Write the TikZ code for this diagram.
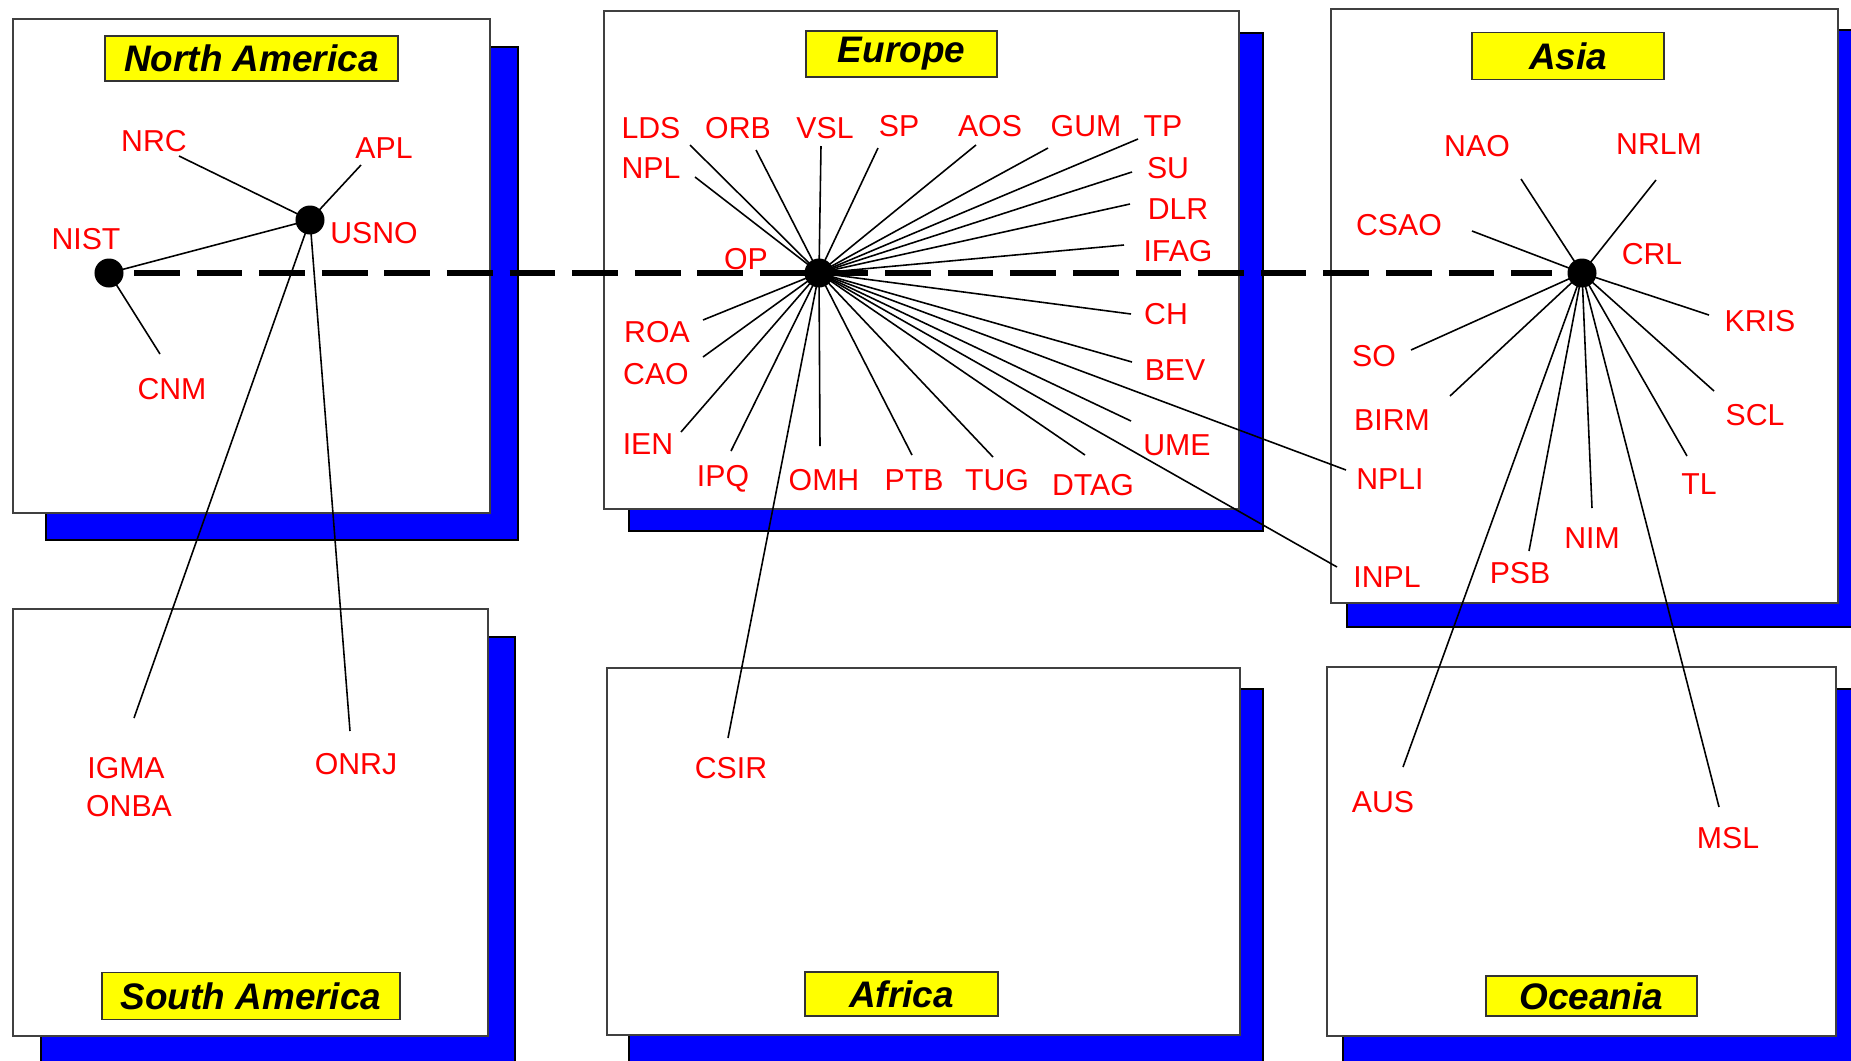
\documentclass[tikz,border=0pt]{standalone}
\usepackage{fontspec}
\setmainfont{Liberation Sans}
\usepackage{xcolor}

\definecolor{shadowblue}{RGB}{0,0,255}
\definecolor{titleyellow}{RGB}{255,255,0}
\definecolor{labelred}{RGB}{255,0,0}

\begin{document}
\begin{tikzpicture}[x=0.01cm,y=-0.01cm,
        panel/.style={draw=black!75,fill=white,line width=0.5pt},
        backing/.style={draw=black,fill=shadowblue,line width=0.4pt},
        region/.style={draw=black!80,fill=titleyellow,line width=0.5pt,inner sep=0pt,
            font=\fontsize{10.5}{12}\selectfont\bfseries\itshape},
        lab/.style={text=labelred,inner sep=0pt,font=\fontsize{8.6}{10}\selectfont},
        hub/.style={circle,fill=black,inner sep=0pt,minimum size=0.29cm},
        spoke/.style={line width=0.45pt},
        trunk/.style={line width=1.7pt,dash pattern=on 13pt off 4.8pt}]
        \useasboundingbox[fill=white] (0,0) rectangle (1851,1060);

        % panels with their blue shadows
        \draw[backing] (46,47) rectangle (518,540);
        \draw[panel]   (13,19) rectangle (490,513);
        \draw[backing] (629,33) rectangle (1263,531);
        \draw[panel]   (604,11) rectangle (1239,509);
        \draw[backing] (1347,30) rectangle (1856,627);
        \draw[panel]   (1331,9) rectangle (1838,603);
        \draw[backing] (41,637) rectangle (515,1064);
        \draw[panel]   (13,609) rectangle (488,1036);
        \draw[backing] (629,689) rectangle (1263,1064);
        \draw[panel]   (607,668) rectangle (1240,1035);
        \draw[backing] (1343,689) rectangle (1856,1064);
        \draw[panel]   (1327,667) rectangle (1836,1036);

        \node[region,minimum width=2.93cm,minimum height=0.45cm] (northam) at (251.5,58.5) {North America};
        \node[region,minimum width=1.91cm,minimum height=0.46cm] (europe)  at (901.5,54)   {Europe};
        \node[region,minimum width=1.92cm,minimum height=0.47cm] (asia)    at (1568,56)    {Asia};
        \node[region,minimum width=2.98cm,minimum height=0.47cm] (southam) at (251,996)    {South America};
        \node[region,minimum width=1.93cm,minimum height=0.44cm] (africa)  at (901.5,994)  {Africa};
        \node[region,minimum width=2.11cm,minimum height=0.40cm] (oceania) at (1591.5,996) {Oceania};

        % hubs
        \coordinate (nist) at (109,273);
        \coordinate (usno) at (310,220);
        \coordinate (eu)   at (819,273);
        \coordinate (as)   at (1582,273);

        % line ends, north and south america
        \coordinate (nrc-t)  at (179,156);
        \coordinate (apl-t)  at (361,165);
        \coordinate (cnm-t)  at (160,354);
        \coordinate (igma-t) at (134,718);
        \coordinate (onrj-t) at (350,731);

        % line ends, europe and africa
        \coordinate (lds-t)  at (690,145);
        \coordinate (npl-t)  at (695,177);
        \coordinate (orb-t)  at (756,150);
        \coordinate (vsl-t)  at (821,146);
        \coordinate (sp-t)   at (878,148);
        \coordinate (aos-t)  at (976,145);
        \coordinate (gum-t)  at (1048,148);
        \coordinate (tp-t)   at (1138,139);
        \coordinate (su-t)   at (1132,172);
        \coordinate (dlr-t)  at (1130,204);
        \coordinate (ifag-t) at (1124,245);
        \coordinate (ch-t)   at (1131,314);
        \coordinate (bev-t)  at (1132,362);
        \coordinate (ume-t)  at (1131,421);
        \coordinate (dtag-t) at (1085,455);
        \coordinate (tug-t)  at (993,457);
        \coordinate (ptb-t)  at (912,455);
        \coordinate (omh-t)  at (820,446);
        \coordinate (ipq-t)  at (731,451);
        \coordinate (ien-t)  at (681,432);
        \coordinate (cao-t)  at (703,357);
        \coordinate (roa-t)  at (703,320);
        \coordinate (npli-t) at (1346,470);
        \coordinate (inpl-t) at (1337,567);
        \coordinate (csir-t) at (728,738);

        % line ends, asia and oceania
        \coordinate (nao-t)  at (1521,179);
        \coordinate (nrlm-t) at (1656,180);
        \coordinate (csao-t) at (1472,231);
        \coordinate (kris-t) at (1709,315);
        \coordinate (so-t)   at (1411,350);
        \coordinate (birm-t) at (1450,396);
        \coordinate (scl-t)  at (1714,391);
        \coordinate (tl-t)   at (1687,456);
        \coordinate (nim-t)  at (1592,508);
        \coordinate (psb-t)  at (1529,551);
        \coordinate (aus-t)  at (1403,767);
        \coordinate (msl-t)  at (1719,807);

        \draw[spoke] (nist) -- (usno);
        \draw[spoke] (nist) -- (cnm-t);
        \draw[spoke] (usno) -- (nrc-t);
        \draw[spoke] (usno) -- (apl-t);
        \draw[spoke] (usno) -- (igma-t);
        \draw[spoke] (usno) -- (onrj-t);

        \draw[spoke] (eu) -- (lds-t);
        \draw[spoke] (eu) -- (npl-t);
        \draw[spoke] (eu) -- (orb-t);
        \draw[spoke] (eu) -- (vsl-t);
        \draw[spoke] (eu) -- (sp-t);
        \draw[spoke] (eu) -- (aos-t);
        \draw[spoke] (eu) -- (gum-t);
        \draw[spoke] (eu) -- (tp-t);
        \draw[spoke] (eu) -- (su-t);
        \draw[spoke] (eu) -- (dlr-t);
        \draw[spoke] (eu) -- (ifag-t);
        \draw[spoke] (eu) -- (ch-t);
        \draw[spoke] (eu) -- (bev-t);
        \draw[spoke] (eu) -- (ume-t);
        \draw[spoke] (eu) -- (dtag-t);
        \draw[spoke] (eu) -- (tug-t);
        \draw[spoke] (eu) -- (ptb-t);
        \draw[spoke] (eu) -- (omh-t);
        \draw[spoke] (eu) -- (ipq-t);
        \draw[spoke] (eu) -- (ien-t);
        \draw[spoke] (eu) -- (cao-t);
        \draw[spoke] (eu) -- (roa-t);
        \draw[spoke] (eu) -- (npli-t);
        \draw[spoke] (eu) -- (inpl-t);
        \draw[spoke] (eu) -- (csir-t);

        \draw[spoke] (as) -- (nao-t);
        \draw[spoke] (as) -- (nrlm-t);
        \draw[spoke] (as) -- (csao-t);
        \draw[spoke] (as) -- (kris-t);
        \draw[spoke] (as) -- (so-t);
        \draw[spoke] (as) -- (birm-t);
        \draw[spoke] (as) -- (scl-t);
        \draw[spoke] (as) -- (tl-t);
        \draw[spoke] (as) -- (nim-t);
        \draw[spoke] (as) -- (psb-t);
        \draw[spoke] (as) -- (aus-t);
        \draw[spoke] (as) -- (msl-t);

        \draw[trunk,shorten <=0.25cm,shorten >=0.3cm] (nist) -- (as);

        \node[hub] (nistdot) at (nist) {};
        \node[hub] (usnodot) at (usno) {};
        \node[hub] (eudot)   at (eu)   {};
        \node[hub] (asdot)   at (as)   {};

        % north and south america
        \node[lab] (nrc)  at (154,141) {NRC};
        \node[lab] (apl)  at (384,148) {APL};
        \node[lab] (usnolab) at (374,233) {USNO};
        \node[lab] (nistlab) at (86,239) {NIST};
        \node[lab] (cnm)  at (172,389) {CNM};
        \node[lab] (igma) at (126,768) {IGMA};
        \node[lab] (onba) at (129,806) {ONBA};
        \node[lab] (onrj) at (356,764) {ONRJ};

        % europe and africa
        \node[lab] (lds)  at (651,128)  {LDS};
        \node[lab] (orb)  at (738,128)  {ORB};
        \node[lab] (vsl)  at (825,128)  {VSL};
        \node[lab] (sp)   at (899,126)  {SP};
        \node[lab] (aos)  at (990,126)  {AOS};
        \node[lab] (gum)  at (1086,126) {GUM};
        \node[lab] (tp)   at (1163,126) {TP};
        \node[lab] (npl)  at (651,168)  {NPL};
        \node[lab] (su)   at (1168,168) {SU};
        \node[lab] (dlr)  at (1178,209) {DLR};
        \node[lab] (ifag) at (1178,251) {IFAG};
        \node[lab] (op)   at (746,259)  {OP};
        \node[lab] (ch)   at (1166,314) {CH};
        \node[lab] (bev)  at (1175,370) {BEV};
        \node[lab] (ume)  at (1177,445) {UME};
        \node[lab] (roa)  at (657,332)  {ROA};
        \node[lab] (cao)  at (656,374)  {CAO};
        \node[lab] (ien)  at (648,444)  {IEN};
        \node[lab] (ipq)  at (723,479)  {IPQ};
        \node[lab] (omh)  at (824,480)  {OMH};
        \node[lab] (ptb)  at (914,480)  {PTB};
        \node[lab] (tug)  at (997,480)  {TUG};
        \node[lab] (dtag) at (1093,485) {DTAG};
        \node[lab] (csir) at (731,768)  {CSIR};

        % asia and oceania
        \node[lab] (nao)  at (1477,146) {NAO};
        \node[lab] (nrlm) at (1659,144) {NRLM};
        \node[lab] (csao) at (1399,225) {CSAO};
        \node[lab] (crl)  at (1652,254) {CRL};
        \node[lab] (kris) at (1760,321) {KRIS};
        \node[lab] (so)   at (1374,356) {SO};
        \node[lab] (birm) at (1392,420) {BIRM};
        \node[lab] (scl)  at (1755,415) {SCL};
        \node[lab] (npli) at (1390,479) {NPLI};
        \node[lab] (tl)   at (1699,484) {TL};
        \node[lab] (nim)  at (1592,538) {NIM};
        \node[lab] (psb)  at (1520,573) {PSB};
        \node[lab] (inpl) at (1387,577) {INPL};
        \node[lab] (aus)  at (1383,802) {AUS};
        \node[lab] (msl)  at (1728,838) {MSL};
    \end{tikzpicture}
\end{document}
